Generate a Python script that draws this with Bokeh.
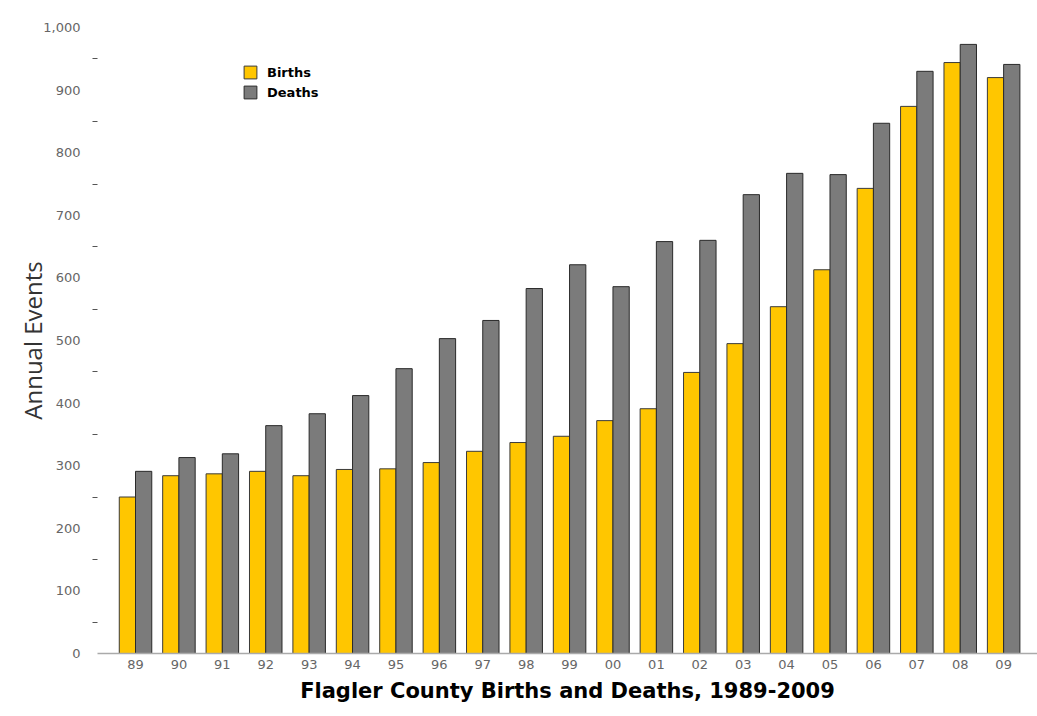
from bokeh.plotting import figure
from bokeh.models import Range1d, FixedTicker, Legend, LegendItem, NumeralTickFormatter
from bokeh.embed import file_html
from bokeh.resources import INLINE

years = ["89", "90", "91", "92", "93", "94", "95", "96", "97", "98", "99",
         "00", "01", "02", "03", "04", "05", "06", "07", "08", "09"]
births = [250, 284, 287, 291, 284, 294, 295, 305, 323, 337, 347,
          372, 391, 449, 495, 554, 613, 743, 874, 944, 920]
deaths = [291, 313, 319, 364, 383, 412, 455, 503, 532, 583, 621,
          586, 658, 660, 733, 767, 765, 847, 930, 973, 941]
y_major = [0, 100, 200, 300, 400, 500, 600, 700, 800, 900, 1000]
y_minor = [50, 150, 250, 350, 450, 550, 650, 750, 850, 950]

idx = list(range(len(years)))
xb = [i - 0.187 for i in idx]
xd = [i + 0.187 for i in idx]

p = figure(width=1037, height=710, output_backend="svg", toolbar_location=None,
           x_range=Range1d(-0.876, 20.78), y_range=Range1d(0, 1000),
           min_border_left=97, min_border_right=0, min_border_top=27, min_border_bottom=57)
p.outline_line_color = None
p.xgrid.visible = False
p.ygrid.visible = False

rb = p.vbar(x=xb, top=births, width=0.375, fill_color="#FFC600", line_color="#3a3a3a", line_width=1)
rd = p.vbar(x=xd, top=deaths, width=0.375, fill_color="#7B7B7B", line_color="#2a2a2a", line_width=1)

# x axis
p.xaxis.ticker = FixedTicker(ticks=idx)
p.xaxis.major_label_overrides = {i: y for i, y in zip(idx, years)}
p.xaxis.major_tick_line_color = None
p.xaxis.minor_tick_line_color = None
p.xaxis.axis_line_color = "#aaaaaa"
p.xaxis.axis_line_width = 1.5
p.xaxis.major_label_text_font = "DejaVu Sans"
p.xaxis.major_label_text_font_size = "13px"
p.xaxis.major_label_text_color = "#666666"
p.xaxis.major_label_standoff = 0
p.xaxis.axis_label = "Flagler County Births and Deaths, 1989-2009"
p.xaxis.axis_label_text_font = "DejaVu Sans"
p.xaxis.axis_label_text_font_style = "bold"
p.xaxis.axis_label_text_font_size = "21px"
p.xaxis.axis_label_text_color = "#000000"
p.xaxis.axis_label_standoff = 7

# y axis
p.yaxis.ticker = FixedTicker(ticks=y_major, minor_ticks=y_minor)
p.yaxis.formatter = NumeralTickFormatter(format="0,0")
p.yaxis.axis_line_color = None
p.yaxis.major_tick_line_color = None
p.yaxis.major_tick_out = 0
p.yaxis.major_tick_in = 0
p.yaxis.minor_tick_line_color = "#555555"
p.yaxis.minor_tick_out = 5
p.yaxis.minor_tick_in = 0
p.yaxis.major_label_text_font = "DejaVu Sans"
p.yaxis.major_label_text_font_size = "13px"
p.yaxis.major_label_text_color = "#666666"
p.yaxis.major_label_standoff = 12
p.yaxis.axis_label = "Annual Events"
p.yaxis.axis_label_text_font = "Open Sans"
p.yaxis.axis_label_text_font_style = "normal"
p.yaxis.axis_label_text_font_size = "24px"
p.yaxis.axis_label_text_color = "#333333"
p.yaxis.axis_label_standoff = -9

legend = Legend(items=[LegendItem(label="Births", renderers=[rb]),
                       LegendItem(label="Deaths", renderers=[rd])],
                location=(145, 553), orientation="vertical")
legend.background_fill_alpha = 0
legend.border_line_color = None
legend.padding = 0
legend.margin = 0
legend.spacing = 4
legend.glyph_width = 16
legend.glyph_height = 16
legend.label_height = 16
legend.label_standoff = 9
legend.label_text_font = "DejaVu Sans"
legend.label_text_font_style = "bold"
legend.label_text_font_size = "13px"
legend.label_text_color = "#000000"
p.add_layout(legend, "center")

open("out.html", "w").write(file_html(p, INLINE))
